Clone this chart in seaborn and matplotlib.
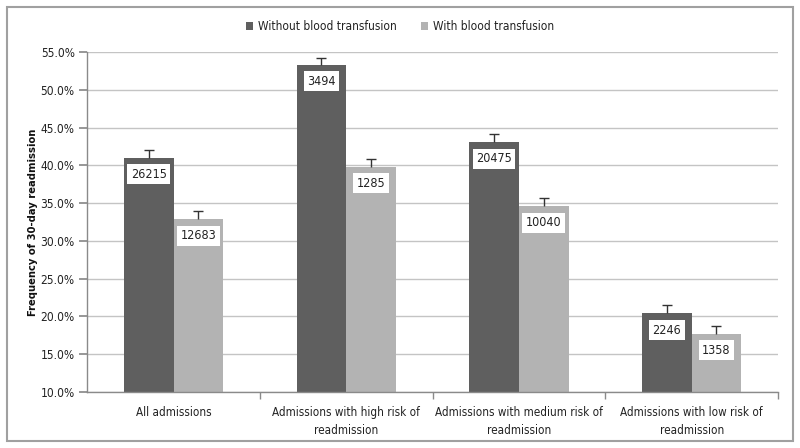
import matplotlib
matplotlib.use("Agg")
import matplotlib.pyplot as plt
import seaborn as sns
import pandas as pd
from matplotlib.patches import Rectangle
from matplotlib.container import BarContainer
from matplotlib.ticker import FuncFormatter, MultipleLocator

categories = ["All admissions",
              "Admissions with high risk of\nreadmission",
              "Admissions with medium risk of\nreadmission",
              "Admissions with low risk of\nreadmission"]
series = ["Without blood transfusion", "With blood transfusion"]
without_vals = [41.0, 53.3, 43.1, 20.4]
with_vals = [32.9, 39.8, 34.6, 17.7]
without_err = [1.05, 0.95, 1.1, 1.05]
with_err = [1.1, 1.1, 1.05, 1.05]
without_n = ["26215", "3494", "20475", "2246"]
with_n = ["12683", "1285", "10040", "1358"]

sns.set_theme(style="white")
plt.rcParams['font.family'] = ['DejaVu Sans']
plt.rcParams['font.stretch'] = 'condensed'

df = pd.DataFrame({
    "category": categories * 2,
    "group": [series[0]] * 4 + [series[1]] * 4,
    "value": without_vals + with_vals,
})

fig = plt.figure(figsize=(8, 4.48), dpi=100)
ax = fig.add_axes([0.109, 0.125, 0.8635, 0.759])
sns.barplot(data=df, x="category", y="value", hue="group",
            palette=["#5f5f5f", "#b3b3b3"], width=0.575, gap=0,
            errorbar=None, ax=ax, saturation=1, linewidth=0)

errs = [without_err, with_err]
labels = [without_n, with_n]
bar_containers = [c for c in ax.containers if isinstance(c, BarContainer)]
for ci, cont in enumerate(bar_containers):
    for bi, patch in enumerate(cont.patches):
        xc = patch.get_x() + patch.get_width() / 2
        top = patch.get_height()
        eb = ax.errorbar([xc], [top], yerr=[[0], [errs[ci][bi]]], fmt="none",
                         ecolor="#333333", elinewidth=1, capsize=3.5, capthick=1, zorder=3)
        caps = eb[1]
        if len(caps) > 1:
            caps[0].set_visible(False)
        ax.annotate(labels[ci][bi], xy=(xc, top), xytext=(0, -12),
                    textcoords="offset points", ha="center", va="center",
                    fontsize=9, color="#222222", zorder=4,
                    bbox=dict(boxstyle="square,pad=0.28", fc="white", ec="none"))

ax.set_ylim(10, 55)
ax.set_xlim(-0.5, 3.5)
ax.yaxis.set_major_locator(MultipleLocator(5))
ax.yaxis.set_major_formatter(FuncFormatter(lambda v, p: f"{v:.1f}%"))
ax.grid(axis="y", color="#c4c4c4", linewidth=1)
ax.set_axisbelow(True)
for s in ["top", "right"]:
    ax.spines[s].set_visible(False)
for s in ["left", "bottom"]:
    ax.spines[s].set_color("#8a8a8a")
    ax.spines[s].set_linewidth(1)

ax.set_xticks([0, 1, 2, 3])
ax.set_xticklabels(categories, fontsize=8.4, color="#222222", linespacing=1.55)
ax.set_xticks([0.5, 1.5, 2.5, 3.5], minor=True)
ax.tick_params(axis="x", which="major", length=0, pad=10)
ax.tick_params(axis="x", which="minor", length=5, color="#8a8a8a", direction="out", bottom=True)
ax.tick_params(axis="y", length=6, color="#8a8a8a", direction="out", left=True,
               labelsize=8.6, labelcolor="#222222", pad=3)
ax.set_xlabel("")
ax.set_ylabel("Frequency of 30-day readmission", fontsize=8, fontweight="bold",
              color="#111111", labelpad=2)

leg = ax.legend(loc="upper center", bbox_to_anchor=(0.453, 1.125), ncol=2, frameon=False,
                fontsize=8.6, handlelength=0.6, handleheight=0.6, handletextpad=0.4,
                columnspacing=2.0)
for t in leg.get_texts():
    t.set_color("#222222")

fig.patches.append(Rectangle((0.009, 0.016), 0.982, 0.968, transform=fig.transFigure,
                             fill=False, ec="#a0a0a0", lw=1.5))

fig.savefig("out.png", dpi=100)
